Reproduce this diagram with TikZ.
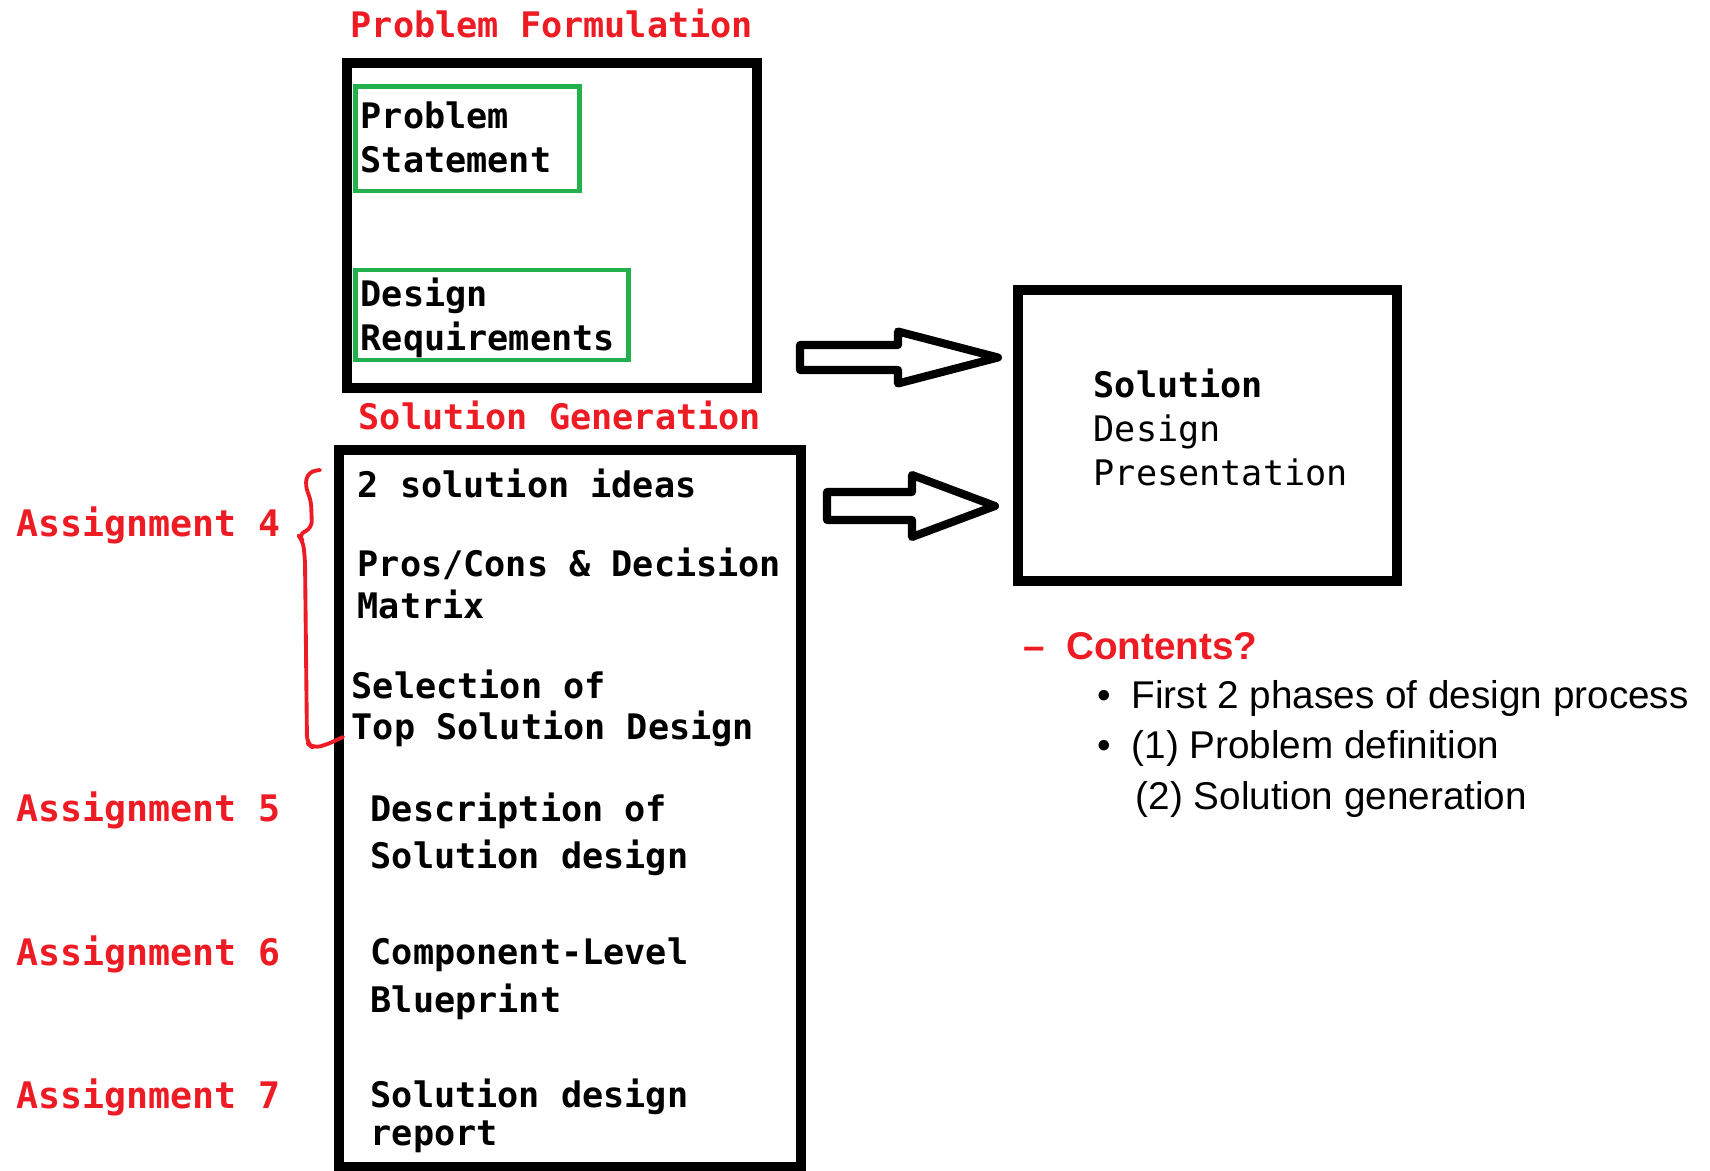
\documentclass[tikz,border=0pt]{standalone}
\usepackage{fontspec}
\setmainfont{Liberation Sans}
\newfontfamily\codefont{DejaVu Sans Mono}

\definecolor{markred}{RGB}{237,28,36}
\definecolor{markgreen}{RGB}{34,177,76}

\tikzset{
    phase/.style={draw, line width=2.7pt, inner sep=0pt},
    subbox/.style={draw=markgreen, line width=1.4pt, inner sep=0pt},
    item/.style={anchor=base west, inner sep=0pt, align=left,
        font=\codefont\fontsize{10}{12.6}\selectfont\bfseries},
    title/.style={item, text=markred},
    tag/.style={item, text=markred, font=\codefont\fontsize{10.4}{12.6}\selectfont\bfseries},
    blockarrow/.style={draw, line width=2.3pt, line join=round, fill=white},
    point/.style={anchor=base west, inner sep=0pt, font=\fontsize{11}{13}\selectfont},
}

\begin{document}
\begin{tikzpicture}[x=0.01cm, y=-0.01cm]
    \useasboundingbox (0,0) rectangle (1710,1171);

    % Phase boxes
    \node[phase, minimum width=4.10cm, minimum height=3.25cm] (formulation) at (552,225.5) {};
    \node[subbox, minimum width=2.23cm, minimum height=1.04cm] (statement) at (467.5,139) {};
    \node[subbox, minimum width=2.72cm, minimum height=0.90cm] (requirements) at (492,315) {};
    \node[phase, minimum width=4.62cm, minimum height=7.17cm] (generation) at (570,808.5) {};
    \node[phase, minimum width=3.79cm, minimum height=2.91cm] (presentation) at (1207.5,435.5) {};

    % Phase titles
    \node[title] (formtitle) at (350,38) {Problem Formulation};
    \node[title] (gentitle) at (358,430) {Solution Generation};

    % Problem formulation contents (placed at last baseline)
    \node[item] (stmttext) at (360,172.5) {Problem\\Statement};
    \node[item] (reqtext) at (360,350.5) {Design\\Requirements};

    % Solution generation contents
    \node[item] (ideas) at (357,498) {2 solution ideas};
    \node[item] (matrix) at (357,619) {Pros/Cons \& Decision\\[-0.4pt]Matrix};
    \node[item] (selection) at (351,740) {Selection of\\[-0.9pt]Top Solution Design};
    \node[item] (description) at (370,869) {Description of\\[1pt]Solution design};
    \node[item] (blueprint) at (370,1012) {Component-Level\\[0.8pt]Blueprint};
    \node[item] (report) at (370,1145.5) {Solution design\\[-1.9pt]report};

    % Presentation contents
    \node[item] (prestext) at (1093,486) {Solution\\{\mdseries Design}\\{\mdseries Presentation}};

    % Assignment labels
    \node[tag] (assign4) at (16,537) {Assignment 4};
    \node[tag] (assign5) at (16,822) {Assignment 5};
    \node[tag] (assign6) at (16,965) {Assignment 6};
    \node[tag] (assign7) at (16,1108) {Assignment 7};

    % Hand drawn brace for assignment 4
    \draw[markred, line width=1.1pt, line join=round, line cap=round, rounded corners=2pt]
        (320,470) -- (308,472) -- (305,486) -- (311,500) -- (312,528) -- (298,535)
        -- (303,541) -- (305,560) -- (307,743) -- (313,748) -- (326,745) -- (343,737);

    % Block arrows into the presentation box
    \foreach \tail/\base/\tip/\mid/\shaft/\head in {800/898/998/357.5/12.5/26, 827/912/995/506/14/31} {
        \draw[blockarrow] (\tail,\mid-\shaft) -- (\base,\mid-\shaft) -- (\base,\mid-\head)
            -- (\tip,\mid) -- (\base,\mid+\head) -- (\base,\mid+\shaft) -- (\tail,\mid+\shaft) -- cycle;
    }

    % Contents list
    \node[point, text=markred, font=\fontsize{11}{13}\selectfont\bfseries] (contents) at (1023,660) {–\hspace{0.54em}Contents?};
    \node[point, anchor=base] (dot1) at (1104,709) {•};
    \node[point] (phases) at (1131,709) {First 2 phases of design process};
    \node[point, anchor=base] (dot2) at (1104,759) {•};
    \node[point] (probdef) at (1131,759) {(1) Problem definition};
    \node[point] (solgen) at (1135,810) {(2) Solution generation};
\end{tikzpicture}
\end{document}
